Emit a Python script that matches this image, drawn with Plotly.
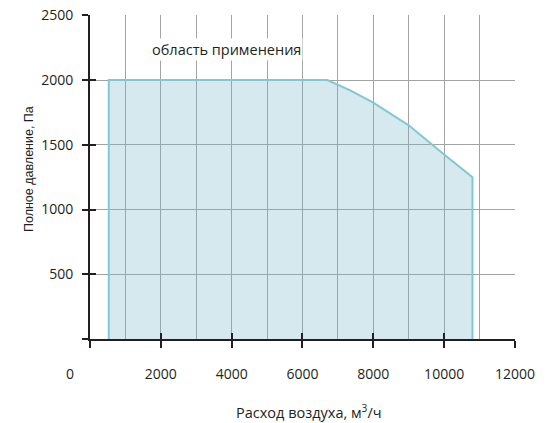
import plotly.graph_objects as go

# Data
flow = [530, 530, 6700, 7350, 8000, 9000, 10000, 10800, 10800]
pressure = [0, 2000, 2000, 1920, 1825, 1650, 1425, 1250, 0]

x_ticks = [0, 2000, 4000, 6000, 8000, 10000, 12000]
x_tick_text = ["", "2000", "4000", "6000", "8000", "10000", "12000"]
y_ticks = [0, 500, 1000, 1500, 2000, 2500]
y_tick_text = ["", "500", "1000", "1500", "2000", "2500"]

area_label = "область применения"
x_title = "Расход воздуха, м<sup>3</sup>/ч"
y_title = "Полное давление, Па"

FONT = "Open Sans"
INK = "#231f20"
GRID = "#a3a3a3"

fig = go.Figure()
fig.add_trace(go.Scatter(
    x=flow, y=pressure, mode="lines",
    line=dict(color="#82c8d3", width=2),
    fill="toself", fillcolor="rgba(118,182,198,0.30)",
    hoverinfo="skip", showlegend=False,
))
# invisible trace for the overlay axes (inner tick halves)
fig.add_trace(go.Scatter(x=[0], y=[0], xaxis="x2", yaxis="y2", mode="markers",
                         marker=dict(opacity=0), showlegend=False, hoverinfo="skip"))

Y_RANGE = [0, 2502]
X_RANGE = [0, 12001]

fig.update_layout(
    width=547, height=423,
    margin=dict(l=82, r=40, t=7, b=92),
    plot_bgcolor="white", paper_bgcolor="white",
    font=dict(family=FONT, size=14, color=INK),
    xaxis=dict(
        range=X_RANGE, tickvals=x_ticks, ticktext=x_tick_text,
        ticks="outside", ticklen=7, tickwidth=2, tickcolor=INK,
        showline=True, linecolor=INK, linewidth=2,
        showgrid=True, gridcolor=GRID, gridwidth=1.2,
        minor=dict(dtick=1000, tick0=0, showgrid=True, gridcolor=GRID, gridwidth=1.2),
        zeroline=False, ticklabelstandoff=14, automargin=False,
        ticklabeloverflow="allow", tickfont=dict(size=14),
    ),
    yaxis=dict(
        range=Y_RANGE, tickvals=y_ticks, ticktext=y_tick_text,
        ticks="outside", ticklen=6, tickwidth=2, tickcolor=INK,
        showline=True, linecolor=INK, linewidth=2,
        showgrid=True, gridcolor=GRID, gridwidth=1.2,
        zeroline=False, ticklabelstandoff=6, automargin=False,
        ticklabeloverflow="allow", tickfont=dict(size=14),
    ),
    xaxis2=dict(
        range=X_RANGE, tickvals=x_ticks, overlaying="x", anchor="y2", side="bottom",
        ticks="inside", ticklen=6, tickwidth=2, tickcolor=INK, automargin=False,
        showticklabels=False, showgrid=False, showline=False, zeroline=False,
    ),
    yaxis2=dict(
        range=Y_RANGE, tickvals=y_ticks, overlaying="y", anchor="x2", side="left",
        ticks="inside", ticklen=6, tickwidth=2, tickcolor=INK, automargin=False,
        showticklabels=False, showgrid=False, showline=False, zeroline=False,
    ),
    annotations=[
        dict(x=3850, y=2235, xref="x", yref="y", text=area_label, showarrow=False,
             font=dict(size=14.5, color=INK), bgcolor="white"),
        dict(x=x_ticks[0], y=0, xref="x", yref="paper", text="0", showarrow=False,
             xanchor="center", yanchor="middle",
             xshift=-20, yshift=-34, font=dict(size=14, color=INK)),
        dict(x=6000, y=0, xref="x", yref="paper", text=x_title, showarrow=False,
             xanchor="center", yanchor="middle",
             xshift=7, yshift=-72, font=dict(size=14.5, color=INK)),
        dict(x=0, y=0.5, xref="paper", yref="paper", text=y_title, showarrow=False,
             textangle=-90, xanchor="center", yanchor="middle",
             xshift=-61, yshift=8,
             font=dict(family="Liberation Sans", size=12.5, color=INK)),
    ],
)

fig.write_html("out.html")
